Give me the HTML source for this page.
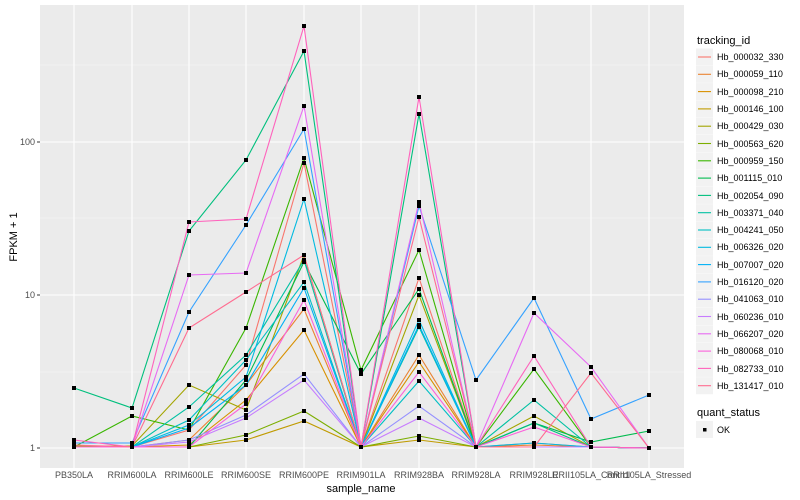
<!DOCTYPE html>
<html><head><meta charset="utf-8"><style>
body{margin:0;background:#fff;}
svg{display:block;font-family:"Liberation Sans",sans-serif;}
</style></head><body>
<svg id="s" width="800" height="500" xmlns="http://www.w3.org/2000/svg">
<rect x="40" y="5" width="644" height="463" fill="#ebebeb"/>
<g stroke="#f5f5f5" stroke-width="0.6">
<line x1="40" x2="684" y1="65" y2="65"/><line x1="40" x2="684" y1="218" y2="218"/><line x1="40" x2="684" y1="372" y2="372"/>
</g>
<g stroke="#fff" stroke-width="1.1">
<line x1="40" x2="684" y1="142" y2="142"/><line x1="40" x2="684" y1="295" y2="295"/><line x1="40" x2="684" y1="448" y2="448"/>
<line y1="5" y2="468" x1="74" x2="74"/><line y1="5" y2="468" x1="132" x2="132"/><line y1="5" y2="468" x1="189" x2="189"/><line y1="5" y2="468" x1="246" x2="246"/><line y1="5" y2="468" x1="304" x2="304"/><line y1="5" y2="468" x1="361" x2="361"/><line y1="5" y2="468" x1="419" x2="419"/><line y1="5" y2="468" x1="476" x2="476"/><line y1="5" y2="468" x1="534" x2="534"/><line y1="5" y2="468" x1="591" x2="591"/><line y1="5" y2="468" x1="649" x2="649"/>
</g>
<g id="series"></g>
<g stroke="#333" stroke-width="1">
<line x1="37" x2="40" y1="142" y2="142"/><line x1="37" x2="40" y1="295" y2="295"/><line x1="37" x2="40" y1="448" y2="448"/>
</g>
<g font-size="9" fill="#4d4d4d" text-anchor="end">
<text x="35" y="145">100</text><text x="35" y="298">10</text><text x="35" y="451">1</text>
</g>
<g font-size="9" fill="#4d4d4d" text-anchor="middle">
<text x="74" y="478">PB350LA</text><text x="132" y="478">RRIM600LA</text><text x="189" y="478">RRIM600LE</text><text x="246" y="478">RRIM600SE</text><text x="304" y="478">RRIM600PE</text><text x="361" y="478">RRIM901LA</text><text x="419" y="478">RRIM928BA</text><text x="476" y="478">RRIM928LA</text><text x="534" y="478">RRIM928LE</text><text x="591" y="478">RRII105LA_Control</text><text x="649" y="478">RRII105LA_Stressed</text>
</g>
<text x="361" y="492" font-size="11" text-anchor="middle" fill="#000">sample_name</text>
<text transform="translate(17,237) rotate(-90)" font-size="11" text-anchor="middle" fill="#000">FPKM + 1</text>
<text x="697" y="44" font-size="11" fill="#000">tracking_id</text>
<g id="leg"></g>
<g font-size="9" fill="#000">
<text x="717" y="60">Hb_000032_330</text><text x="717" y="77">Hb_000059_110</text><text x="717" y="95">Hb_000098_210</text><text x="717" y="112">Hb_000146_100</text><text x="717" y="129">Hb_000429_030</text><text x="717" y="147">Hb_000563_620</text><text x="717" y="164">Hb_000959_150</text><text x="717" y="181">Hb_001115_010</text><text x="717" y="199">Hb_002054_090</text><text x="717" y="216">Hb_003371_040</text><text x="717" y="233">Hb_004241_050</text><text x="717" y="250">Hb_006326_020</text><text x="717" y="268">Hb_007007_020</text><text x="717" y="285">Hb_016120_020</text><text x="717" y="302">Hb_041063_010</text><text x="717" y="320">Hb_060236_010</text><text x="717" y="337">Hb_066207_020</text><text x="717" y="354">Hb_080068_010</text><text x="717" y="372">Hb_082733_010</text><text x="717" y="389">Hb_131417_010</text>
</g>
<text x="697" y="416" font-size="11" fill="#000">quant_status</text>
<rect x="696" y="421" width="17" height="17" fill="#f2f2f2"/>
<rect x="703" y="428" width="3.5" height="3.5" fill="#000"/>
<text x="717" y="433" font-size="9" fill="#000">OK</text>
</svg>
<script>
var X=[74,132,189,246,304,361,419,476,534,591,649];
var C=["#F8766D","#EA8331","#D89000","#C09B00","#A3A500","#7CAE00","#39B600","#00BB4E","#00BF7D","#00C1A3","#00BFC4","#00BAE0","#00B0F6","#35A2FF","#9590FF","#C77CFF","#E76BF3","#FA62DB","#FF62BC","#FF6C90"];
var D=[
[447,447,430,365,163,447,278,447,443,447,448],
[447,447,440,385,309,447,355,447,445,447,448],
[447,447,445,400,330,447,362,447,447,447,448],
[447,447,447,440,421,447,440,447,447,447,448],
[446,446,385,410,255,447,295,447,416,447,448],
[447,447,447,435,411,447,436,447,447,447,448],
[447,416,430,328,158,370,250,447,369,447,448],
[447,447,447,380,262,374,289,447,423,442,431],
[388,408,231,160,51,447,114,447,423,447,448],
[447,447,407,355,260,447,327,447,400,447,448],
[447,447,420,360,282,447,381,447,447,447,448],
[447,447,425,377,199,447,320,447,443,447,448],
[447,447,428,385,288,447,325,447,447,447,448],
[443,443,312,225,129,447,206,380,298,419,395],
[447,447,440,415,374,447,406,447,447,447,448],
[447,447,442,418,380,447,418,447,447,447,448],
[447,447,275,273,106,447,202,447,313,367,448],
[447,447,447,404,300,447,372,447,427,447,448],
[440,447,222,219,26,447,97,447,356,447,448],
[445,447,328,292,255,447,217,447,447,373,448]];
var ns="http://www.w3.org/2000/svg",g=document.getElementById("series"),l=document.getElementById("leg");
D.forEach(function(d,i){var p=document.createElementNS(ns,"polyline");p.setAttribute("points",d.map(function(y,j){return X[j]+","+y}).join(" "));p.setAttribute("fill","none");p.setAttribute("stroke",C[i]);p.setAttribute("stroke-width","1.1");g.appendChild(p);
var cy=57+i*17.3;var r=document.createElementNS(ns,"rect");r.setAttribute("x",696);r.setAttribute("y",cy-8.5);r.setAttribute("width",17);r.setAttribute("height",17);r.setAttribute("fill","#f2f2f2");l.appendChild(r);
var ln=document.createElementNS(ns,"line");ln.setAttribute("x1",698);ln.setAttribute("x2",711);ln.setAttribute("y1",cy);ln.setAttribute("y2",cy);ln.setAttribute("stroke",C[i]);ln.setAttribute("stroke-width","1.1");l.appendChild(ln);});
D.forEach(function(d){d.forEach(function(y,j){var r=document.createElementNS(ns,"rect");r.setAttribute("x",X[j]-2);r.setAttribute("y",y-2);r.setAttribute("width",4);r.setAttribute("height",4);r.setAttribute("fill","#000");g.appendChild(r);});});
</script>
</body></html>
